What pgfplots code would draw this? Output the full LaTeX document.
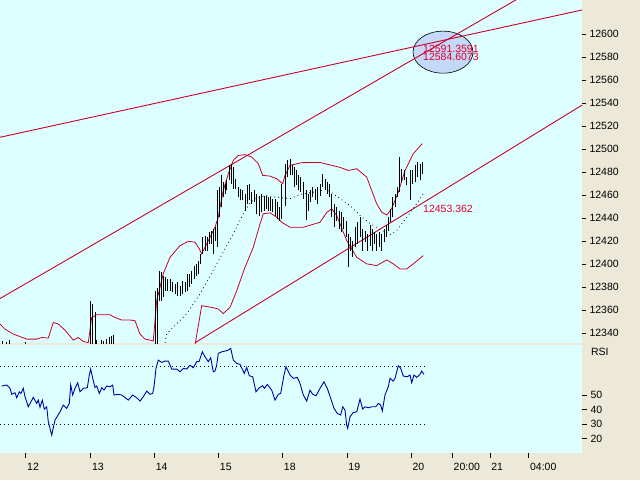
\documentclass[border=0pt]{standalone}
\usepackage{fontspec}
\setmainfont{Liberation Sans}
\usepackage{pgfplots}
\usepackage{pgfplotstable}
\pgfplotsset{compat=1.18}

\definecolor{bgcyan}{RGB}{222,255,255}
\definecolor{panel}{RGB}{236,233,216}
\definecolor{lred}{RGB}{200,0,40}
\definecolor{tred}{RGB}{225,0,45}
\definecolor{rsiblue}{RGB}{0,0,165}
\definecolor{ellfill}{RGB}{196,216,248}

% OHLC bars: x (px position), high, low
\pgfplotstableread{
x hi lo
2.7 12333.2 12325
6.7 12332.6 12325
9.3 12333.8 12325
25 12332.6 12325
90 12368.1 12325
92.3 12365.2 12325
95 12357.9 12325
96.7 12333.8 12325
101.7 12333.8 12325
103.3 12333.2 12325
106.7 12334.7 12325
109.3 12336.1 12325
111 12337.6 12325
113.3 12338.4 12325
155 12376.9 12325
157 12379.5 12325
159.3 12394.3 12368.1
161.7 12392.8 12368.1
163.3 12389.9 12371.0
165.7 12388.4 12376.8
167.7 12387.0 12376.8
170 12387.0 12376.8
172.7 12384.1 12375.4
175 12382.7 12374.0
177.3 12384.1 12372.5
180 12381.2 12372.5
182.3 12385.6 12374.0
185 12384.1 12375.4
187.3 12391.4 12376.8
189.3 12391.4 12379.7
191.7 12394.3 12382.7
194 12398.7 12387.1
196 12400.2 12389.9
198.3 12403.0 12391.4
200.7 12408.9 12400.2
202.7 12423.4 12408.9
205 12424.8 12411.8
207.3 12423.4 12411.8
209.3 12427.7 12417.6
211 12429.2 12417.6
213.3 12430.7 12408.9
215.7 12432.1 12420.5
217.7 12464.1 12414.6
219.3 12467.0 12440.8
221.7 12477.2 12449.5
223.3 12471.4 12458.3
225 12470.0 12461.2
226.7 12472.8 12464.1
229 12485.9 12472.8
231 12487.4 12470.0
233.3 12484.4 12465.6
235.7 12474.3 12465.6
238.3 12467.0 12458.3
240.7 12465.6 12455.4
242.7 12464.1 12455.4
245 12461.2 12446.6
247.3 12468.5 12452.5
249.3 12470.0 12455.4
251.7 12462.6 12452.5
254 12464.1 12453.9
256.7 12461.2 12443.8
259.3 12459.7 12442.3
261.7 12461.2 12445.2
264 12459.7 12446.6
266 12459.7 12448.1
268.3 12458.3 12446.6
270.7 12458.3 12446.6
272.7 12456.9 12445.2
275 12456.9 12442.3
277.3 12453.9 12439.4
279.3 12449.5 12437.9
281.7 12470.0 12439.4
285 12487.4 12451.0
287.3 12490.3 12475.7
290 12491.8 12477.2
292.3 12485.9 12477.2
294 12484.4 12467.0
296.2 12481.5 12468.5
298.3 12477.2 12464.1
300.7 12475.7 12462.6
303.3 12471.4 12456.9
306 12464.1 12438.0
308.3 12461.2 12446.6
310.7 12464.1 12453.9
312.7 12467.0 12458.3
315 12465.6 12455.4
317.3 12467.0 12452.5
320 12470.0 12459.7
322.7 12478.1 12467.0
325 12474.3 12464.1
327.3 12471.4 12461.2
329.3 12470.0 12458.3
331.7 12461.2 12440.8
334 12452.5 12432.1
336.7 12449.5 12437.9
339 12446.6 12430.7
341 12445.2 12427.7
343.3 12440.8 12430.7
346 12437.9 12423.4
348.3 12426.3 12397.2
350.7 12423.4 12411.8
352.7 12420.5 12405.9
355 12432.1 12414.6
357.3 12436.4 12417.6
360 12440.8 12423.4
362.7 12430.7 12411.8
365 12429.2 12419.0
367.3 12426.3 12411.8
370 12433.6 12416.1
372.3 12430.7 12411.8
374.7 12427.7 12417.6
376.7 12426.3 12411.8
379 12427.7 12414.6
381.7 12426.3 12411.8
384 12430.7 12419.0
386 12433.6 12423.4
388.3 12440.8 12429.2
390 12448.1 12436.4
392.7 12458.3 12440.8
395 12461.2 12449.5
397.3 12467.0 12458.3
399.3 12493.2 12462.6
401.7 12483.0 12471.4
404 12481.5 12472.8
406.7 12475.7 12468.5
410 12481.5 12455.4
412.3 12481.5 12470.0
415 12485.9 12471.4
417.3 12488.8 12475.7
420 12487.4 12472.8
422.3 12488.8 12478.7
}\bars

\pgfplotsset{chart/.style={
  scale only axis, width=582pt, xmin=0, xmax=582,
  axis background/.style={fill=bgcyan},
  axis line style={draw=none},
  ytick pos=right, yticklabel pos=right,
  tick align=outside, major tick length=4pt,
  tick style={black, line width=0.6pt},
  ticklabel style={font=\fontsize{10.5}{12}\selectfont},
  scaled y ticks=false,
  /pgf/number format/assume math mode=true,
  /pgf/number format/fixed, /pgf/number format/precision=0,
  /pgf/number format/1000 sep={},
}}

\begin{document}
\begin{tikzpicture}
\useasboundingbox (0pt,0pt) rectangle (640pt,-480pt);
\fill[panel] (0pt,0pt) rectangle (640pt,-480pt);

\begin{axis}[chart, at={(0pt,0pt)}, anchor=north west, height=343pt,
  ymin=12331.3, ymax=12629.9, ytick={12340,12360,...,12600}, xtick=\empty]

\draw[fill=ellfill, draw=black, line width=0.6pt] (axis cs:443,12584.5) ellipse [x radius=30pt, y radius=21pt];

% trend lines
\addplot[lred, line width=0.9pt] coordinates {(0,12510.4) (582,12621.2)};
\addplot[lred, line width=0.9pt] coordinates {(0,12370) (582,12663.3)};
\addplot[lred, line width=0.9pt] coordinates {(195,12331.5) (582,12538.4)};

% upper band
\addplot[lred, line width=0.8pt] coordinates {
(0,12347.8) (5,12343.4) (13.3,12339.1) (26.7,12334.7) (36.7,12334.7) (41.7,12336.1)
(48.3,12335.6) (53.3,12349.2) (58.3,12347.8) (65,12342.5) (73.3,12333.8) (78.3,12336.1)
(83.3,12332.6) (88.3,12331.7) (91.7,12353.5) (96.7,12355.9) (110,12355.9) (115,12353.5)
(121.7,12351.3) (130,12351.3) (135,12350.7) (140,12339.1) (145,12334.7) (153.3,12333.2)
(156.7,12368.1) (163.3,12391.7) (170,12405.9) (180,12416.1) (188.3,12419.9) (195,12419.0)
(199.3,12413.2) (201.7,12408.9) (208.3,12420.5) (215,12432.1) (218.3,12440.8) (220,12449.5)
(223.3,12464.1) (228.3,12478.7) (233.3,12490.3) (238.3,12494.6) (245,12495.3) (251.7,12493.2)
(258.3,12487.4) (262.7,12477.2) (270,12476.6) (276.7,12474.3) (282.7,12470.0) (285,12477.2)
(290,12485.9) (301.7,12488.3) (320,12488.5) (340,12484.2) (348.3,12481.5) (356.7,12483.0)
(366.7,12475.7) (371.7,12464.1) (376.7,12452.5) (381.7,12445.2) (386.7,12442.7) (391.7,12448.4)
(398.3,12462.6) (405,12481.5) (413.3,12496.1) (422.3,12504.9)};

% lower band
\addplot[lred, line width=0.8pt] coordinates {
(194,12324.5) (201.7,12363.8) (211.7,12362.3) (218.3,12360.9) (223.3,12357.0) (230,12362.3)
(236.7,12376.8) (245,12397.2) (253.3,12414.6) (260,12435.0) (263.3,12443.8) (270,12444.6)
(276.7,12440.8) (281.7,12436.4) (290,12432.1) (303.3,12432.1) (320,12436.4) (326.7,12444.9)
(331.7,12448.1) (336.7,12442.3) (346.7,12420.5) (356.7,12405.9) (366.7,12400.2) (376.7,12398.7)
(386.7,12403.6) (393.3,12400.2) (400,12395.8) (406.7,12395.8) (413.3,12400.2) (423.3,12407.4)};

% moving average (dotted)
\addplot[black, line width=0.8pt, dash pattern=on 0.8pt off 3.2pt] coordinates {
(165,12331.5) (166.7,12339.3) (186.7,12356.8) (200,12374.0) (216.7,12400.2) (233.3,12426.3)
(245,12446.6) (253.3,12456.9) (266.7,12459.7) (276.7,12458.3) (290,12456.9) (300,12460.6)
(313.3,12462.6) (326.7,12465.0) (340,12457.1) (350,12451.0) (360,12442.3) (370,12435.3)
(380,12430.1) (390,12425.7) (396.7,12429.2) (406.7,12440.8) (416.7,12452.5) (423.3,12461.2)};

% price bars
\addplot[draw=none, no markers, error bars/.cd, y dir=plus, y explicit, error mark=none,
  error bar style={draw=black, solid, line width=1pt}]
  table[x=x, y=lo, y error expr=\thisrow{hi}-\thisrow{lo}] {\bars};

\node[tred, anchor=west, inner sep=0pt, font=\fontsize{10.5}{12}\selectfont] at (axis cs:423,12587.1) {12591.3591};
\node[tred, anchor=west, inner sep=0pt, font=\fontsize{10.5}{12}\selectfont] at (axis cs:423,12580.2) {12584.6073};
\node[tred, anchor=west, inner sep=0pt, font=\fontsize{10.5}{12}\selectfont] at (axis cs:423,12448.4) {12453.362};
\end{axis}

\begin{axis}[chart, name=rsi, at={(0pt,-345pt)}, anchor=north west, height=108pt,
  ymin=10, ymax=84.5, ytick={20,30,40,50},
  xtick={25.7,90.6,154.3,218.4,282.4,346.9,411,452.2,489.8,528.6},
  xticklabels={12,13,14,15,18,19,20,20:00,21,04:00},
  xtick pos=bottom, xticklabel style={anchor=north west, xshift=-2pt, yshift=-2pt},
  major tick length=5pt]
\addplot[black, line width=0.8pt, dash pattern=on 0.8pt off 3.2pt] coordinates {(0,70) (425,70)};
\addplot[black, line width=0.8pt, dash pattern=on 0.8pt off 3.2pt] coordinates {(0,30) (425,30)};
\addplot[rsiblue, line width=0.9pt] coordinates {
(1.7,56.2) (6.7,56.9) (10,54.6) (11.7,50.5) (15,51.6) (16.7,48.1) (19.3,52.2) (21,51.1)
(23.3,54.6) (25,48.8) (28.3,41.9) (33.3,48.4) (36.7,44.2) (38.3,46.5) (40,41.5) (42.3,46.5)
(44.3,40.3) (46.7,41.9) (48.3,31.6) (51.7,22.4) (55,32.7) (60,38.4) (63.3,43.1) (66.7,40.8)
(69.3,44.2) (70.7,56.9) (72.7,50.0) (75,54.6) (77.7,58.5) (80,52.2) (83.3,54.6) (87.3,55.0)
(89.3,63.8) (90.7,67.9) (92.7,61.5) (95,55.3) (96.7,56.2) (99.3,51.1) (101.7,55.0) (104,53.4)
(106.7,56.2) (110,55.7) (112.7,56.9) (114,50.0) (118.3,50.5) (121.7,50.0) (128.3,46.5)
(132.7,50.0) (136.7,48.1) (140,45.8) (143.3,48.8) (146.7,52.7) (150,50.5) (152.7,51.1)
(154,55.7) (156,68.4) (158.3,74.1) (161.7,72.5) (165,73.4) (168.3,73.4) (171.7,67.9)
(176.7,67.9) (180,66.0) (183.3,68.4) (186.7,67.9) (190,70.6) (193.3,68.8) (196.7,73.0)
(199,73.0) (202.3,79.8) (205,76.4) (208.3,73.0) (210.7,75.7) (213.3,66.0) (215,66.5)
(216.7,70.6) (218.3,78.7) (221.7,79.8) (225,80.3) (228.3,81.0) (230.7,82.2) (233.3,74.1)
(236.7,71.8) (240,71.1) (244.3,64.9) (246.7,69.1) (249.3,63.3) (252.7,62.6) (256,52.2)
(259.3,55.0) (262.7,56.4) (264.3,54.6) (267.3,57.3) (271.7,53.4) (275,46.5) (278.3,50.5)
(280.7,51.1) (284,63.8) (286,69.5) (290,63.8) (293.3,61.5) (297.3,62.2) (300,58.0)
(303.3,50.0) (306.7,45.8) (310,53.4) (312.7,50.5) (316,49.5) (320,54.6) (324,59.1)
(327.3,54.6) (330.7,47.7) (334,40.8) (337.3,37.3) (340.7,36.2) (342.7,41.9) (345,39.6)
(346.7,29.3) (347.7,27.0) (350,35.0) (353.3,38.0) (356.7,38.4) (360,47.2) (362.7,40.3)
(365,41.9) (368.3,41.2) (371.7,41.9) (375.7,41.9) (378.3,44.2) (380.7,43.1) (382.3,39.0)
(385,50.0) (388.3,55.7) (390,61.5) (393.3,59.6) (395,61.5) (398.3,70.2) (400.7,68.4)
(403.3,63.1) (407.3,62.6) (410,63.8) (411.7,58.5) (414,63.8) (416.7,62.2) (420,64.2)
(421.7,66.5) (424,64.2)};
\end{axis}
\node[anchor=west, font=\fontsize{10.5}{12}\selectfont] at ([xshift=5.5pt,yshift=-7pt]rsi.north east) {RSI};
\end{tikzpicture}
\end{document}
